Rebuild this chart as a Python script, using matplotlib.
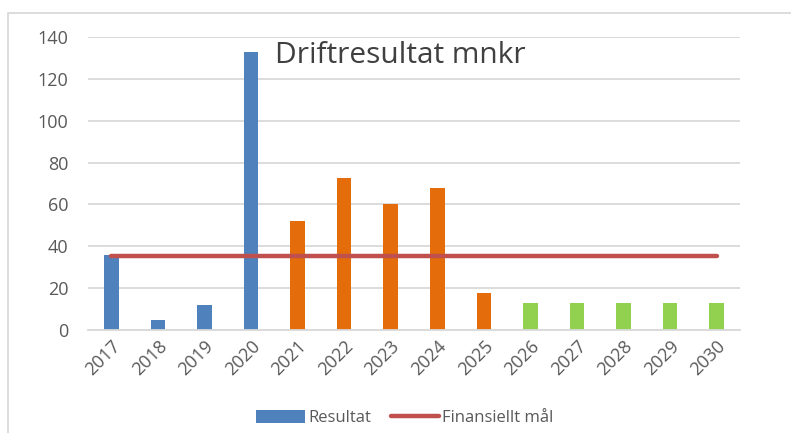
import matplotlib
matplotlib.use("Agg")
import matplotlib.pyplot as plt
from matplotlib.lines import Line2D
from matplotlib.patches import Patch

years = ["2017", "2018", "2019", "2020", "2021", "2022", "2023", "2024",
         "2025", "2026", "2027", "2028", "2029", "2030"]
resultat = [36, 5, 12, 133, 52, 72.5, 60, 68, 17.5, 13, 13, 13, 13, 13]
finansiellt_mal = [35.5] * 14
bar_colors = ["#4F81BD"] * 4 + ["#E46C0A"] * 5 + ["#92D050"] * 5
title = "Driftresultat mnkr"

W, H = 791, 433
fig = plt.figure(figsize=(W / 100, H / 100), dpi=100)
plt.rcParams['font.family'] = ['Open Sans', 'DejaVu Sans']

ax = fig.add_axes([88 / W, (H - 330) / H, (740 - 88) / W, (330 - 37) / H])
x = list(range(len(years)))
ax.bar(x, resultat, width=0.31, color=bar_colors, zorder=2)
ax.plot(x, finansiellt_mal, color="#C0504D", linewidth=3.2,
        solid_capstyle="round", zorder=3)

ax.set_xlim(-0.5, len(years) - 0.5)
ax.set_ylim(0, 140)
ax.set_yticks(range(0, 141, 20))
ax.yaxis.grid(True, color="#D9D9D9", linewidth=1.3, zorder=0)
ax.set_axisbelow(True)
for s in ["top", "right", "left"]:
    ax.spines[s].set_visible(False)
ax.spines["bottom"].set_color("#D9D9D9")
ax.spines["bottom"].set_linewidth(1.3)
ax.tick_params(length=0, labelsize=13, colors="#595959")
ax.tick_params(axis="y", pad=14)
ax.set_xticks(x)
ax.set_xticklabels(years, rotation=45, ha="right", rotation_mode="anchor")
ax.tick_params(axis="x", pad=5)

ax.text(275 / W, (H - 63) / H, title, transform=fig.transFigure, fontsize=21.5,
        color="#404040", va="baseline", ha="left")

handles = [Patch(facecolor="#4F81BD", edgecolor="none"),
           Line2D([0], [0], color="#C0504D", linewidth=3.2, solid_capstyle="round")]
fig.legend(handles, ["Resultat", "Finansiellt mål"], loc="center",
           bbox_to_anchor=(405 / W, (H - 418) / H), ncol=2, frameon=False,
           fontsize=12, labelcolor="#595959", handlelength=2.9, handleheight=0.85,
           handletextpad=0.2, columnspacing=1.2)

fig.add_artist(Line2D([8 / W, 8 / W, 1.0], [0.0, (H - 13) / H, (H - 13) / H],
                      transform=fig.transFigure, color="#D9D9D9", linewidth=1.3))

fig.savefig("out.png", dpi=100, facecolor="white")
